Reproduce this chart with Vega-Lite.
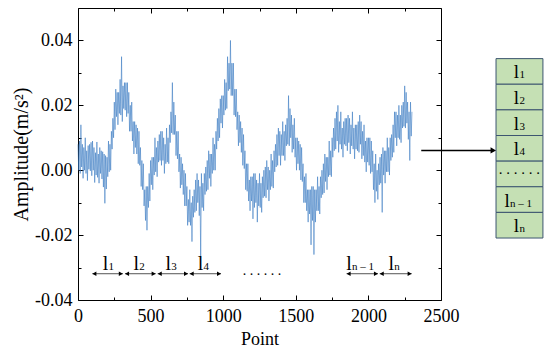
{
"$schema": "https://vega.github.io/schema/vega-lite/v6.json",
"width": 363, "height": 292,
"padding": {"left": 11, "top": 7, "right": 5, "bottom": 0},
"background": "white",
"config": {"view": {"stroke": null}, "axis": {"labelFont": "Liberation Serif", "titleFont": "Liberation Serif", "labelFontSize": 18, "titleFontSize": 20, "titleFontWeight": "normal", "labelColor": "black", "titleColor": "black", "domainColor": "black", "tickColor": "black", "grid": false, "domainWidth": 1, "tickWidth": 1}},
"datasets": {
"sig": [
{"p":0,"a":0.008},{"p":5,"a":0.0},{"p":10,"a":0.009},{"p":15,"a":-0.001},{"p":20,"a":0.014},{"p":25,"a":0.001},{"p":30,"a":0.008},{"p":35,"a":-0.0025},{"p":40,"a":0.007},{"p":45,"a":0.0},
{"p":50,"a":0.01},{"p":55,"a":-0.001},{"p":60,"a":0.006},{"p":65,"a":-0.0032},{"p":70,"a":0.0076},{"p":75,"a":0.0003},{"p":80,"a":0.008},{"p":85,"a":-0.0002},{"p":90,"a":0.0086},{"p":95,"a":-0.0017},
{"p":100,"a":0.009},{"p":105,"a":0.0},{"p":110,"a":0.007},{"p":115,"a":-0.0038},{"p":120,"a":0.0054},{"p":125,"a":-0.0015},{"p":130,"a":0.0087},{"p":135,"a":-0.0022},{"p":140,"a":0.005},{"p":145,"a":-0.004},
{"p":150,"a":0.007},{"p":155,"a":-0.001},{"p":160,"a":0.006},{"p":165,"a":-0.0027},{"p":170,"a":0.0057},{"p":175,"a":-0.0052},{"p":180,"a":0.005},{"p":185,"a":-0.0102},{"p":190,"a":0.0045},{"p":195,"a":-0.0058},
{"p":200,"a":0.004},{"p":205,"a":-0.002},{"p":210,"a":0.009},{"p":215,"a":-0.0005},{"p":220,"a":0.008},{"p":225,"a":0.0},{"p":230,"a":0.012},{"p":235,"a":0.0065},{"p":240,"a":0.016},{"p":245,"a":0.01},
{"p":250,"a":0.021},{"p":255,"a":0.0125},{"p":260,"a":0.025},{"p":265,"a":0.0165},{"p":270,"a":0.024},{"p":275,"a":0.014},{"p":280,"a":0.024},{"p":285,"a":0.0175},{"p":290,"a":0.028},{"p":295,"a":0.017},
{"p":300,"a":0.035},{"p":305,"a":0.015},{"p":310,"a":0.026},{"p":315,"a":0.019},{"p":320,"a":0.027},{"p":325,"a":0.0185},{"p":330,"a":0.027},{"p":335,"a":0.0165},{"p":340,"a":0.027},{"p":345,"a":0.0175},
{"p":350,"a":0.024},{"p":355,"a":0.012},{"p":360,"a":0.02},{"p":365,"a":0.012},{"p":370,"a":0.021},{"p":375,"a":0.009},{"p":380,"a":0.015},{"p":385,"a":0.005},{"p":390,"a":0.015},{"p":395,"a":0.007},
{"p":400,"a":0.014},{"p":405,"a":0.005},{"p":410,"a":0.013},{"p":415,"a":0.002},{"p":420,"a":0.012},{"p":425,"a":0.0015},{"p":430,"a":0.007},{"p":435,"a":-0.005},{"p":440,"a":0.003},{"p":445,"a":-0.006},
{"p":450,"a":0.002},{"p":455,"a":-0.011},{"p":460,"a":-0.006},{"p":465,"a":-0.0155},{"p":470,"a":-0.005},{"p":475,"a":-0.0185},{"p":480,"a":-0.005},{"p":485,"a":-0.0115},{"p":490,"a":-0.001},{"p":495,"a":-0.0095},
{"p":500,"a":0.003},{"p":505,"a":-0.0045},{"p":510,"a":0.004},{"p":515,"a":-0.006},{"p":520,"a":0.004},{"p":525,"a":-0.0015},{"p":530,"a":0.01},{"p":535,"a":-0.0005},{"p":540,"a":0.007},{"p":545,"a":-0.002},
{"p":550,"a":0.009},{"p":555,"a":0.0025},{"p":560,"a":0.011},{"p":565,"a":0.003},{"p":570,"a":0.012},{"p":575,"a":0.0015},{"p":580,"a":0.012},{"p":585,"a":0.003},{"p":590,"a":0.01},{"p":595,"a":-0.001},
{"p":600,"a":0.008},{"p":605,"a":0.002},{"p":610,"a":0.013},{"p":615,"a":0.0025},{"p":620,"a":0.01},{"p":625,"a":0.002},{"p":630,"a":0.014},{"p":635,"a":0.0085},{"p":640,"a":0.018},{"p":645,"a":0.0115},
{"p":650,"a":0.027},{"p":655,"a":0.011},{"p":660,"a":0.021},{"p":665,"a":0.011},{"p":670,"a":0.017},{"p":675,"a":0.0045},{"p":680,"a":0.012},{"p":685,"a":0.0035},{"p":690,"a":0.012},{"p":695,"a":-0.0005},
{"p":700,"a":0.005},{"p":705,"a":-0.0055},{"p":710,"a":0.004},{"p":715,"a":-0.0045},{"p":720,"a":0.002},{"p":725,"a":-0.0075},{"p":730,"a":0.0},{"p":735,"a":-0.011},{"p":740,"a":-0.001},{"p":745,"a":-0.011},
{"p":750,"a":-0.005},{"p":755,"a":-0.017},{"p":760,"a":-0.009},{"p":765,"a":-0.016},{"p":770,"a":-0.006},{"p":775,"a":-0.017},{"p":780,"a":-0.01},{"p":785,"a":-0.022},{"p":790,"a":-0.008},{"p":795,"a":-0.0145},
{"p":800,"a":-0.006},{"p":805,"a":-0.013},{"p":810,"a":-0.003},{"p":815,"a":-0.0125},{"p":820,"a":-0.001},{"p":825,"a":-0.01},{"p":830,"a":-0.003},{"p":835,"a":-0.014},{"p":840,"a":-0.005},{"p":845,"a":-0.0265},
{"p":850,"a":-0.001},{"p":855,"a":-0.0115},{"p":860,"a":-0.004},{"p":865,"a":-0.0125},{"p":870,"a":-0.001},{"p":875,"a":-0.0075},{"p":880,"a":0.001},{"p":885,"a":-0.0065},{"p":890,"a":0.003},{"p":895,"a":-0.006},
{"p":900,"a":0.006},{"p":905,"a":-0.0025},{"p":910,"a":0.005},{"p":915,"a":-0.005},{"p":920,"a":0.005},{"p":925,"a":-0.001},{"p":930,"a":0.01},{"p":935,"a":0.0},{"p":940,"a":0.008},{"p":945,"a":0.0},
{"p":950,"a":0.012},{"p":955,"a":0.0065},{"p":960,"a":0.016},{"p":965,"a":0.009},{"p":970,"a":0.019},{"p":975,"a":0.01},{"p":980,"a":0.022},{"p":985,"a":0.0145},{"p":990,"a":0.023},{"p":995,"a":0.013},
{"p":1000,"a":0.023},{"p":1005,"a":0.017},{"p":1010,"a":0.028},{"p":1015,"a":0.0185},{"p":1020,"a":0.027},{"p":1025,"a":0.019},{"p":1030,"a":0.035},{"p":1035,"a":0.0245},{"p":1040,"a":0.033},{"p":1045,"a":0.025},
{"p":1050,"a":0.04},{"p":1055,"a":0.023},{"p":1060,"a":0.033},{"p":1065,"a":0.023},{"p":1070,"a":0.033},{"p":1075,"a":0.017},{"p":1080,"a":0.025},{"p":1085,"a":0.0165},{"p":1090,"a":0.025},{"p":1095,"a":0.0125},
{"p":1100,"a":0.018},{"p":1105,"a":0.0075},{"p":1110,"a":0.017},{"p":1115,"a":0.0085},{"p":1120,"a":0.015},{"p":1125,"a":0.0055},{"p":1130,"a":0.013},{"p":1135,"a":0.0015},{"p":1140,"a":0.011},{"p":1145,"a":0.0005},
{"p":1150,"a":0.006},{"p":1155,"a":-0.006},{"p":1160,"a":0.002},{"p":1165,"a":-0.0065},{"p":1170,"a":0.002},{"p":1175,"a":-0.0095},{"p":1180,"a":-0.003},{"p":1185,"a":-0.0125},{"p":1190,"a":-0.002},{"p":1195,"a":-0.0095},
{"p":1200,"a":-0.002},{"p":1205,"a":-0.015},{"p":1210,"a":-0.001},{"p":1215,"a":-0.0115},{"p":1220,"a":-0.001},{"p":1225,"a":-0.01},{"p":1230,"a":-0.003},{"p":1235,"a":-0.016},{"p":1240,"a":-0.004},{"p":1245,"a":-0.011},
{"p":1250,"a":-0.001},{"p":1255,"a":-0.0115},{"p":1260,"a":-0.004},{"p":1265,"a":-0.013},{"p":1270,"a":-0.002},{"p":1275,"a":-0.0085},{"p":1280,"a":0.0},{"p":1285,"a":-0.008},{"p":1290,"a":0.001},{"p":1295,"a":-0.0085},
{"p":1300,"a":0.003},{"p":1305,"a":-0.006},{"p":1310,"a":0.001},{"p":1315,"a":-0.0095},{"p":1320,"a":0.0},{"p":1325,"a":-0.006},{"p":1330,"a":0.005},{"p":1335,"a":-0.005},{"p":1340,"a":0.003},{"p":1345,"a":-0.0055},
{"p":1350,"a":0.006},{"p":1355,"a":-0.0005},{"p":1360,"a":0.008},{"p":1365,"a":0.001},{"p":1370,"a":0.011},{"p":1375,"a":0.0015},{"p":1380,"a":0.013},{"p":1385,"a":0.0045},{"p":1390,"a":0.012},{"p":1395,"a":0.0015},
{"p":1400,"a":0.011},{"p":1405,"a":0.0045},{"p":1410,"a":0.015},{"p":1415,"a":0.0045},{"p":1420,"a":0.012},{"p":1425,"a":0.003},{"p":1430,"a":0.014},{"p":1435,"a":0.0075},{"p":1440,"a":0.016},{"p":1445,"a":0.008},
{"p":1450,"a":0.023},{"p":1455,"a":0.0075},{"p":1460,"a":0.019},{"p":1465,"a":0.01},{"p":1470,"a":0.017},{"p":1475,"a":0.0055},{"p":1480,"a":0.014},{"p":1485,"a":0.0065},{"p":1490,"a":0.016},{"p":1495,"a":0.004},
{"p":1500,"a":0.01},{"p":1505,"a":0.0},{"p":1510,"a":0.01},{"p":1515,"a":0.002},{"p":1520,"a":0.009},{"p":1525,"a":0.0},{"p":1530,"a":0.008},{"p":1535,"a":-0.003},{"p":1540,"a":0.007},{"p":1545,"a":-0.0035},
{"p":1550,"a":0.002},{"p":1555,"a":-0.01},{"p":1560,"a":-0.002},{"p":1565,"a":-0.01},{"p":1570,"a":-0.001},{"p":1575,"a":-0.0125},{"p":1580,"a":-0.006},{"p":1585,"a":-0.016},{"p":1590,"a":-0.006},{"p":1595,"a":-0.0135},
{"p":1600,"a":-0.006},{"p":1605,"a":-0.023},{"p":1610,"a":-0.005},{"p":1615,"a":-0.0155},{"p":1620,"a":-0.005},{"p":1625,"a":-0.026},{"p":1630,"a":-0.006},{"p":1635,"a":-0.016},{"p":1640,"a":-0.006},{"p":1645,"a":-0.0125},
{"p":1650,"a":-0.002},{"p":1655,"a":-0.0125},{"p":1660,"a":-0.005},{"p":1665,"a":-0.0135},{"p":1670,"a":-0.002},{"p":1675,"a":-0.0085},{"p":1680,"a":0.0},{"p":1685,"a":-0.0075},{"p":1690,"a":0.002},{"p":1695,"a":-0.007},
{"p":1700,"a":0.005},{"p":1705,"a":-0.0035},{"p":1710,"a":0.004},{"p":1715,"a":-0.006},{"p":1720,"a":0.004},{"p":1725,"a":-0.002},{"p":1730,"a":0.009},{"p":1735,"a":-0.0015},{"p":1740,"a":0.006},{"p":1745,"a":-0.002},
{"p":1750,"a":0.01},{"p":1755,"a":0.004},{"p":1760,"a":0.013},{"p":1765,"a":0.006},{"p":1770,"a":0.016},{"p":1775,"a":0.0065},{"p":1780,"a":0.018},{"p":1785,"a":0.009},{"p":1790,"a":0.02},{"p":1795,"a":0.0055},
{"p":1800,"a":0.015},{"p":1805,"a":0.008},{"p":1810,"a":0.018},{"p":1815,"a":0.0065},{"p":1820,"a":0.013},{"p":1825,"a":0.004},{"p":1830,"a":0.015},{"p":1835,"a":0.008},{"p":1840,"a":0.016},{"p":1845,"a":0.0075},
{"p":1850,"a":0.016},{"p":1855,"a":0.006},{"p":1860,"a":0.017},{"p":1865,"a":0.0085},{"p":1870,"a":0.016},{"p":1875,"a":0.005},{"p":1880,"a":0.014},{"p":1885,"a":0.0075},{"p":1890,"a":0.018},{"p":1895,"a":0.0065},
{"p":1900,"a":0.013},{"p":1905,"a":0.0035},{"p":1910,"a":0.014},{"p":1915,"a":0.0065},{"p":1920,"a":0.014},{"p":1925,"a":0.006},{"p":1930,"a":0.015},{"p":1935,"a":0.0055},{"p":1940,"a":0.017},{"p":1945,"a":0.008},
{"p":1950,"a":0.015},{"p":1955,"a":0.0035},{"p":1960,"a":0.012},{"p":1965,"a":0.0045},{"p":1970,"a":0.014},{"p":1975,"a":0.0025},{"p":1980,"a":0.009},{"p":1985,"a":-0.0005},{"p":1990,"a":0.01},{"p":1995,"a":0.0025},
{"p":2000,"a":0.01},{"p":2005,"a":0.0015},{"p":2010,"a":0.01},{"p":2015,"a":-0.001},{"p":2020,"a":0.009},{"p":2025,"a":-0.0005},{"p":2030,"a":0.006},{"p":2035,"a":-0.006},{"p":2040,"a":0.002},{"p":2045,"a":-0.01},
{"p":2050,"a":0.005},{"p":2055,"a":-0.0065},{"p":2060,"a":0.0},{"p":2065,"a":-0.009},{"p":2070,"a":0.002},{"p":2075,"a":-0.0045},{"p":2080,"a":0.004},{"p":2085,"a":-0.004},{"p":2090,"a":0.005},{"p":2095,"a":-0.013},
{"p":2100,"a":0.007},{"p":2105,"a":-0.0015},{"p":2110,"a":0.006},{"p":2115,"a":-0.004},{"p":2120,"a":0.006},{"p":2125,"a":-0.0005},{"p":2130,"a":0.01},{"p":2135,"a":-0.0005},{"p":2140,"a":0.007},{"p":2145,"a":-0.0015},
{"p":2150,"a":0.01},{"p":2155,"a":0.003},{"p":2160,"a":0.011},{"p":2165,"a":0.004},{"p":2170,"a":0.014},{"p":2175,"a":0.0055},{"p":2180,"a":0.018},{"p":2185,"a":0.01},{"p":2190,"a":0.018},{"p":2195,"a":0.0075},
{"p":2200,"a":0.017},{"p":2205,"a":0.01},{"p":2210,"a":0.02},{"p":2215,"a":0.0095},{"p":2220,"a":0.017},{"p":2225,"a":0.0085},{"p":2230,"a":0.02},{"p":2235,"a":0.013},{"p":2240,"a":0.021},{"p":2245,"a":0.0135},
{"p":2250,"a":0.026},{"p":2255,"a":0.013},{"p":2260,"a":0.024},{"p":2265,"a":0.0145},{"p":2270,"a":0.021},{"p":2275,"a":0.0095},{"p":2280,"a":0.018},{"p":2285,"a":0.003},{"p":2290,"a":0.021},{"p":2295,"a":0.0105},
{"p":2300,"a":0.018}
],
"seg": [
{"s":99,"e":309,"lx":190,"sub":"1"},
{"s":324,"e":535,"lx":402,"sub":"2"},
{"s":549,"e":758,"lx":622,"sub":"3"},
{"s":769,"e":985,"lx":844,"sub":"4"},
{"s":1850,"e":2066,"lx":1866,"sub":"n – 1"},
{"s":2078,"e":2298,"lx":2158,"sub":"n"}
],
"cells": [
{"t":0.0344,"b":0.0265},{"t":0.0265,"b":0.0186},{"t":0.0186,"b":0.0107},{"t":0.0107,"b":0.0028},{"t":0.0028,"b":-0.0051},{"t":-0.0051,"b":-0.0130},{"t":-0.0130,"b":-0.0209}
],
"clab": [
{"lx":3020,"bl":0.0283,"sub":"1"},
{"lx":3020,"bl":0.0204,"sub":"2"},
{"lx":3020,"bl":0.0125,"sub":"3"},
{"lx":3020,"bl":0.0046,"sub":"4"},
{"lx":2955,"bl":-0.0112,"sub":"n – 1"},
{"lx":3020,"bl":-0.0191,"sub":"n"}
],
"dots": [
{"x":1268,"y":-0.0322,"fs":"b"},
{"x":3040,"y":-0.0013,"fs":"c"}
],
"arr": [
{"x1":2364,"x2":2862,"hx":2860,"y":0.0061}
]
},
"layer": [
{
"data": {"name": "sig"},
"mark": {"type": "line", "color": "#3476c0", "strokeWidth": 0.7, "opacity": 0.8},
"encoding": {
"x": {"field": "p", "type": "quantitative", "scale": {"domain": [0, 2500], "nice": false},
 "axis": {"orient": "bottom", "title": "Point", "titleFontSize": 18, "format": "d", "values": [0,250,500,750,1000,1250,1500,1750,2000,2250,2500], "labelExpr": "datum.value % 500 === 0 ? datum.label : ''", "tickSize": {"condition": {"test": "datum.value % 500 === 0", "value": -5}, "value": -3}, "labelPadding": 12, "titlePadding": 3, "labelFlush": false, "labelOverlap": false}},
"y": {"field": "a", "type": "quantitative", "scale": {"domain": [-0.04, 0.05], "nice": false, "zero": false},
 "axis": {"orient": "left", "title": "Amplitude(m/s²)", "values": [-0.04,-0.03,-0.02,-0.01,0,0.01,0.02,0.03,0.04], "labelExpr": "round(datum.value*100) % 2 === 0 ? replace(format(datum.value, '.2f'), '−', '-') : ''", "tickSize": {"condition": {"test": "round(datum.value*100) % 2 === 0", "value": -5}, "value": -3}, "labelPadding": 11, "titlePadding": 3, "labelFlush": false, "labelOverlap": false}}
}
},
{
"data": {"name": "sig"},
"mark": {"type": "line", "opacity": 0},
"encoding": {
"x": {"field": "p", "type": "quantitative", "axis": {"orient": "top", "title": null, "labels": false, "values": [0,250,500,750,1000,1250,1500,1750,2000,2250,2500], "tickSize": {"condition": {"test": "datum.value % 500 === 0", "value": -5}, "value": -3}}},
"y": {"field": "a", "type": "quantitative", "axis": {"orient": "right", "title": null, "labels": false, "values": [-0.04,-0.03,-0.02,-0.01,0,0.01,0.02,0.03,0.04], "tickSize": {"condition": {"test": "round(datum.value*100) % 2 === 0", "value": -5}, "value": -3}}}
}
},
{
"data": {"name": "seg"},
"mark": {"type": "rule", "color": "#555555", "strokeWidth": 1},
"encoding": {"x": {"field": "s", "type": "quantitative", "axis": null}, "x2": {"field": "e"}, "y": {"datum": -0.0319, "axis": null}}
},
{
"data": {"name": "seg"},
"mark": {"type": "point", "shape": "triangle-left", "filled": true, "color": "black", "size": 22, "opacity": 1, "xOffset": 2},
"encoding": {"x": {"field": "s", "type": "quantitative", "axis": null}, "y": {"datum": -0.0319, "axis": null}}
},
{
"data": {"name": "seg"},
"mark": {"type": "point", "shape": "triangle-right", "filled": true, "color": "black", "size": 22, "opacity": 1, "xOffset": -2},
"encoding": {"x": {"field": "e", "type": "quantitative", "axis": null}, "y": {"datum": -0.0319, "axis": null}}
},
{
"data": {"name": "seg"},
"mark": {"type": "text", "font": "Liberation Serif", "fontSize": 20, "align": "center", "baseline": "alphabetic", "color": "black"},
"encoding": {"x": {"field": "lx", "type": "quantitative", "axis": null}, "y": {"datum": -0.0306, "axis": null}, "text": {"value": "l"}}
},
{
"data": {"name": "seg"},
"mark": {"type": "text", "font": "Liberation Serif", "fontSize": 11, "align": "left", "baseline": "alphabetic", "dx": 3, "color": "black"},
"encoding": {"x": {"field": "lx", "type": "quantitative", "axis": null}, "y": {"datum": -0.0306, "axis": null}, "text": {"field": "sub"}}
},
{
"data": {"name": "cells"},
"mark": {"type": "rect", "fill": "#c5e0b4", "stroke": "#3d5670", "strokeWidth": 1},
"encoding": {"x": {"datum": 2879, "axis": null}, "x2": {"datum": 3202}, "y": {"field": "t", "type": "quantitative", "axis": null}, "y2": {"field": "b"}}
},
{
"data": {"name": "clab"},
"mark": {"type": "text", "font": "Liberation Serif", "fontSize": 19, "align": "center", "baseline": "alphabetic", "color": "black"},
"encoding": {"x": {"field": "lx", "type": "quantitative", "axis": null}, "y": {"field": "bl", "type": "quantitative", "axis": null}, "text": {"value": "l"}}
},
{
"data": {"name": "clab"},
"mark": {"type": "text", "font": "Liberation Serif", "fontSize": 11, "align": "left", "baseline": "alphabetic", "dx": 3, "color": "black"},
"encoding": {"x": {"field": "lx", "type": "quantitative", "axis": null}, "y": {"field": "bl", "type": "quantitative", "axis": null}, "text": {"field": "sub"}}
},
{
"data": {"name": "dots"},
"mark": {"type": "text", "font": "Liberation Serif", "align": "center", "baseline": "alphabetic", "color": "black"},
"encoding": {"x": {"field": "x", "type": "quantitative", "axis": null}, "y": {"field": "y", "type": "quantitative", "axis": null}, "text": {"value": ". . . . . ."}, "size": {"field": "fs", "type": "nominal", "scale": {"domain": ["b", "c"], "range": [14, 15]}, "legend": null}}
},
{
"data": {"name": "arr"},
"mark": {"type": "rule", "color": "black", "strokeWidth": 1.5},
"encoding": {"x": {"field": "x1", "type": "quantitative", "axis": null}, "x2": {"field": "x2"}, "y": {"field": "y", "type": "quantitative", "axis": null}}
},
{
"data": {"name": "arr"},
"mark": {"type": "point", "shape": "triangle-right", "filled": true, "color": "black", "size": 40, "opacity": 1},
"encoding": {"x": {"field": "hx", "type": "quantitative", "axis": null}, "y": {"field": "y", "type": "quantitative", "axis": null}}
}
],
"resolve": {"axis": {"x": "independent", "y": "independent"}}
}
